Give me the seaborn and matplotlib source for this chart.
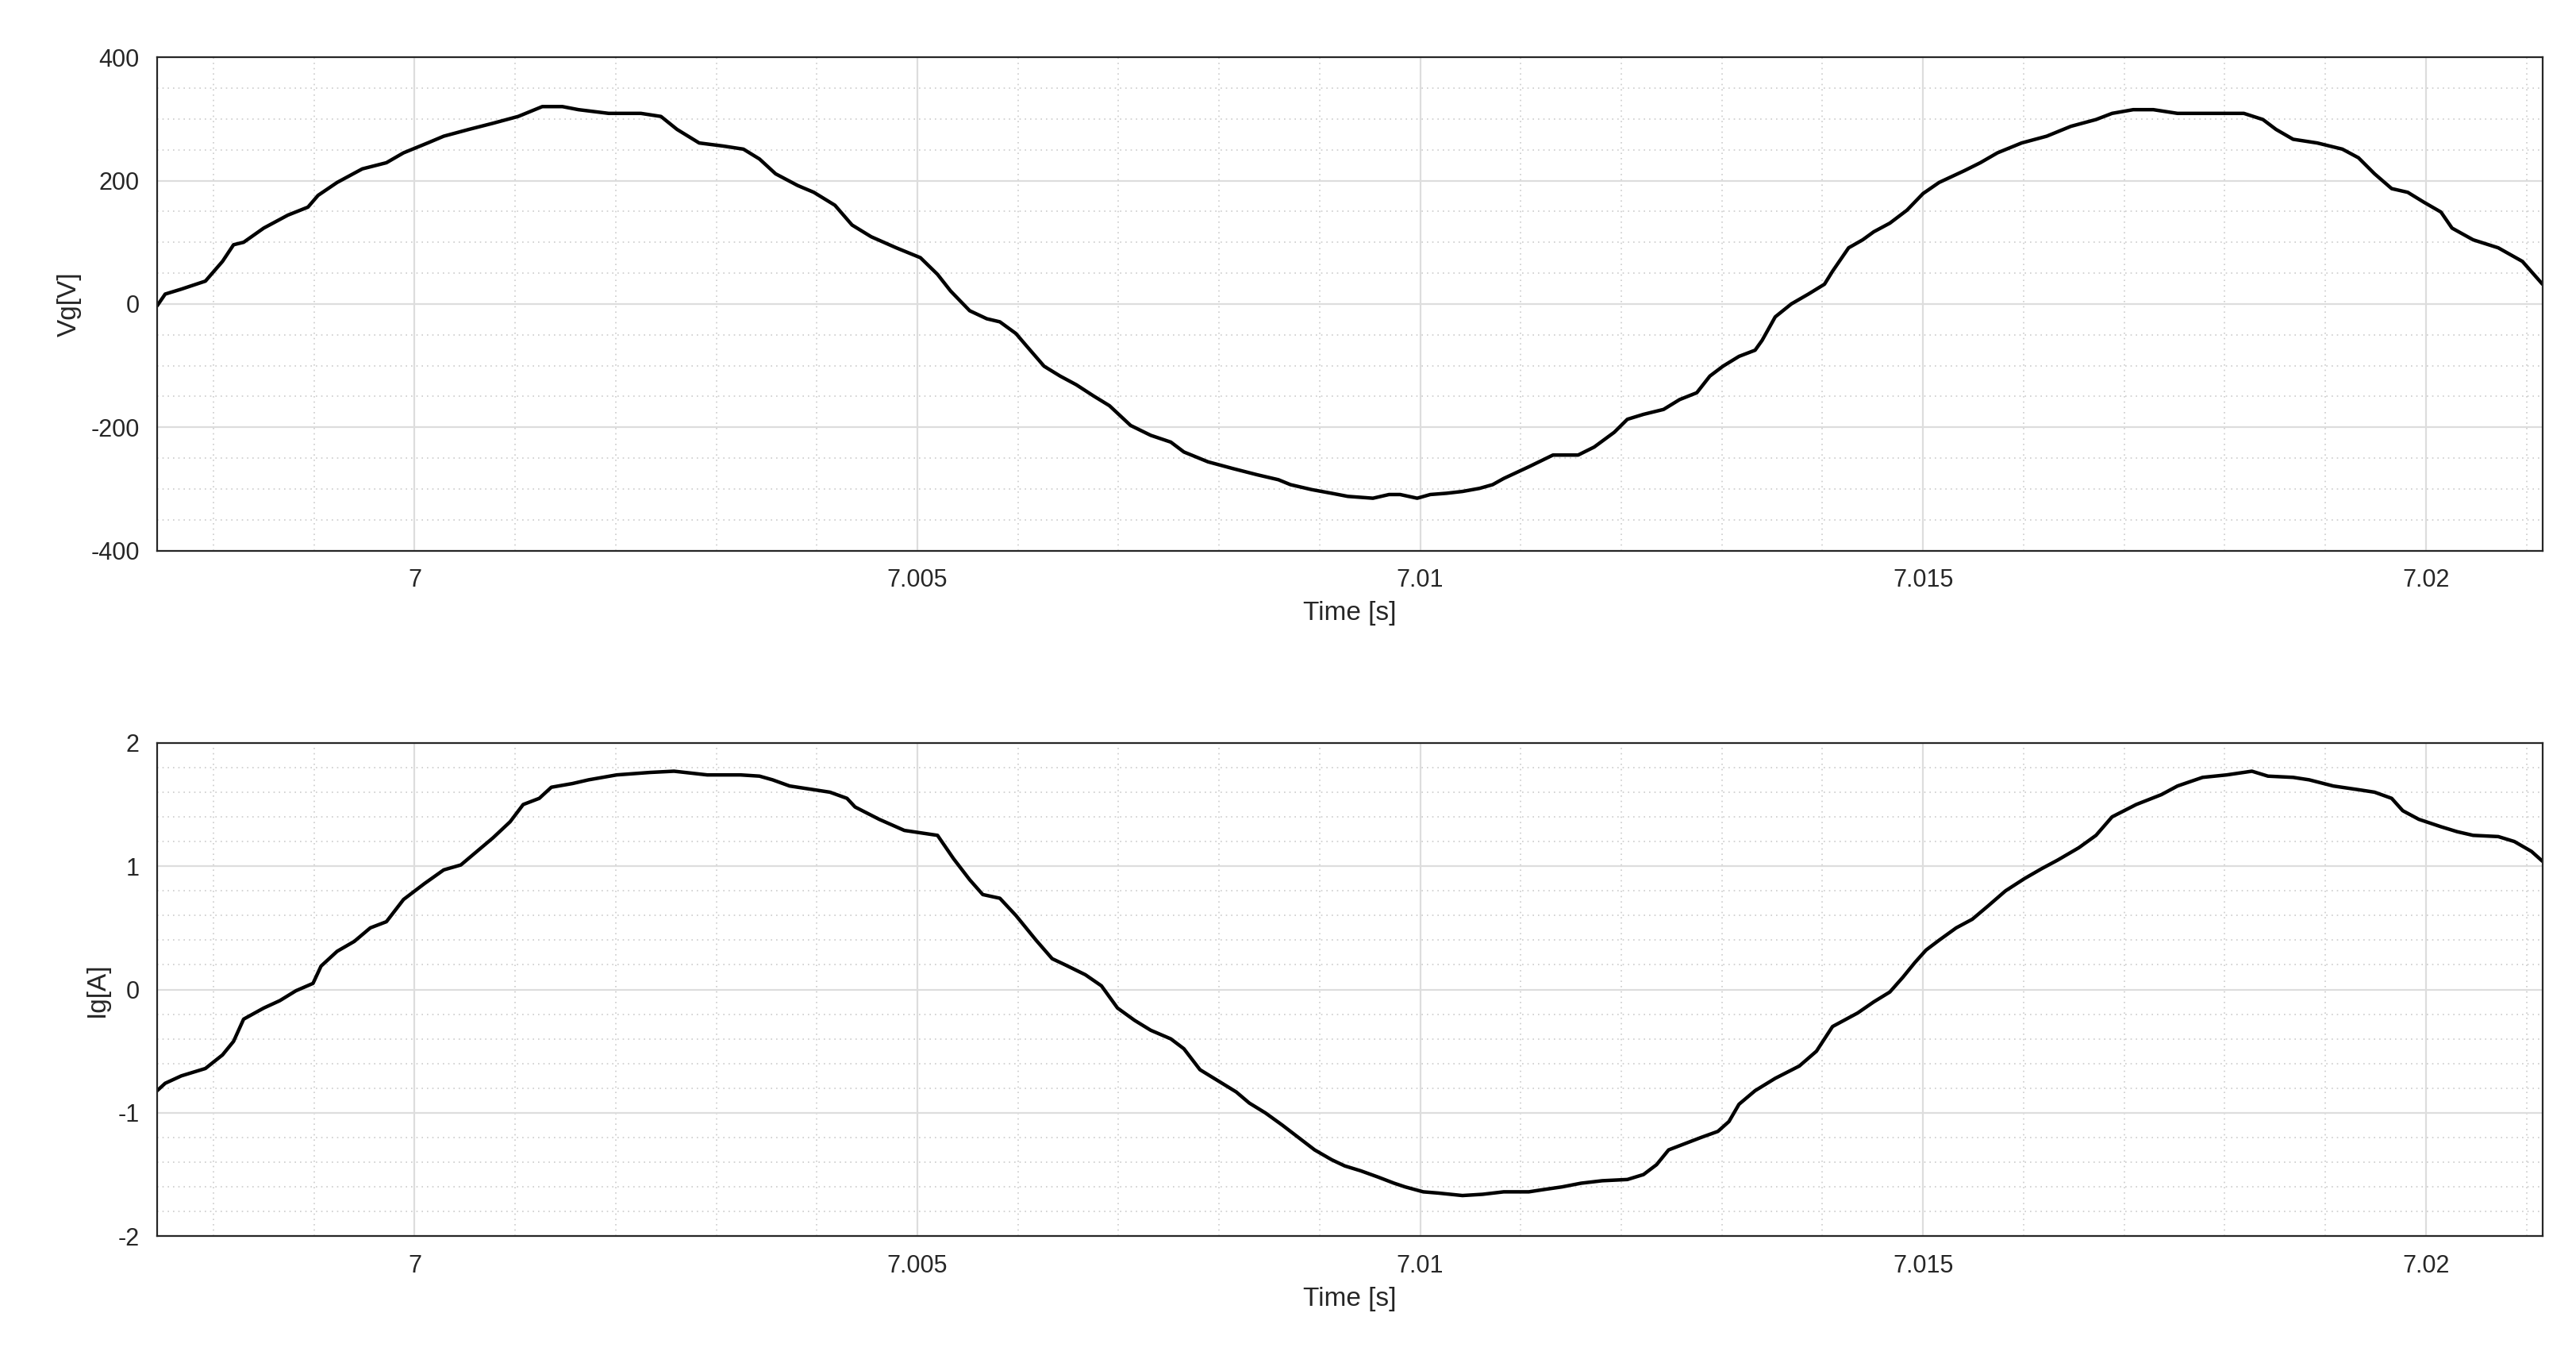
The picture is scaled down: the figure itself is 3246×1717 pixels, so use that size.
import numpy as np
import matplotlib
matplotlib.use("Agg")
import matplotlib.pyplot as plt
import seaborn as sns
from matplotlib.ticker import MultipleLocator

# grid voltage
t_v = [6.99744, 6.99752, 6.99768, 6.99792, 6.99809, 6.99820, 6.99830, 6.99850, 6.99874, 6.99894,
       6.99904, 6.99923, 6.99948, 6.99972, 6.99989, 7.00013, 7.00029, 7.00054, 7.00078, 7.00103,
       7.00127, 7.00147, 7.00163, 7.00193, 7.00225, 7.00245, 7.00261, 7.00283, 7.00307, 7.00327,
       7.00343, 7.00359, 7.00381, 7.00397, 7.00418, 7.00435, 7.00454, 7.00479, 7.00503, 7.00520,
       7.00533, 7.00552, 7.00569, 7.00582, 7.00598, 7.00609, 7.00626, 7.00642, 7.00658, 7.00675,
       7.00691, 7.00712, 7.00732, 7.00752, 7.00765, 7.00789, 7.00814, 7.00838, 7.00859, 7.00871,
       7.00892, 7.00912, 7.00928, 7.00953, 7.00969, 7.00980, 7.00997, 7.01010, 7.01026, 7.01042,
       7.01059, 7.01072, 7.01083, 7.01108, 7.01132, 7.01157, 7.01173, 7.01193, 7.01206, 7.01222,
       7.01242, 7.01258, 7.01275, 7.01288, 7.01301, 7.01317, 7.01333, 7.01340, 7.01353, 7.01369,
       7.01386, 7.01402, 7.01410, 7.01426, 7.01440, 7.01451, 7.01467, 7.01484, 7.01500, 7.01516,
       7.01541, 7.01557, 7.01574, 7.01598, 7.01623, 7.01647, 7.01672, 7.01688, 7.01709, 7.01729,
       7.01753, 7.01778, 7.01819, 7.01838, 7.01851, 7.01868, 7.01892, 7.01917, 7.01933, 7.01949,
       7.01966, 7.01982, 7.01998, 7.02015, 7.02026, 7.02047, 7.02072, 7.02096, 7.02116]
vg = [-3, 16, 24, 37, 69, 96, 100, 123, 144, 157,
      176, 197, 219, 229, 245, 261, 272, 283, 293, 304,
      320, 320, 315, 309, 309, 304, 283, 261, 256, 251,
      235, 211, 192, 181, 160, 128, 109, 91, 75, 48,
      21, -11, -24, -29, -48, -69, -101, -117, -131, -149,
      -165, -197, -213, -224, -240, -256, -267, -277, -285, -293,
      -301, -307, -312, -315, -309, -309, -315, -309, -307, -304,
      -299, -293, -283, -264, -245, -245, -232, -208, -187, -179,
      -171, -155, -144, -117, -101, -85, -75, -59, -21, 0,
      16, 32, 53, 91, 104, 117, 131, 152, 179, 197,
      216, 229, 245, 261, 272, 288, 299, 309, 315, 315,
      309, 309, 309, 299, 283, 267, 261, 251, 237, 211,
      187, 181, 165, 149, 123, 104, 91, 69, 32]

# grid current
t_i = [6.99744, 6.99752, 6.99768, 6.99792, 6.99809, 6.99820, 6.99830, 6.99850, 6.99866, 6.99882,
       6.99899, 6.99907, 6.99923, 6.99940, 6.99956, 6.99972, 6.99989, 7.00010, 7.00029, 7.00046,
       7.00062, 7.00078, 7.00095, 7.00108, 7.00124, 7.00136, 7.00157, 7.00173, 7.00201, 7.00234,
       7.00258, 7.00291, 7.00324, 7.00343, 7.00356, 7.00373, 7.00397, 7.00413, 7.00430, 7.00438,
       7.00462, 7.00487, 7.00520, 7.00536, 7.00552, 7.00565, 7.00582, 7.00598, 7.00618, 7.00634,
       7.00647, 7.00667, 7.00683, 7.00699, 7.00716, 7.00732, 7.00752, 7.00765, 7.00781, 7.00801,
       7.00817, 7.00830, 7.00846, 7.00863, 7.00879, 7.00895, 7.00912, 7.00925, 7.00941, 7.00958,
       7.00974, 7.00985, 7.01003, 7.01018, 7.01042, 7.01062, 7.01083, 7.01108, 7.01124, 7.01141,
       7.01160, 7.01181, 7.01206, 7.01222, 7.01235, 7.01247, 7.01263, 7.01279, 7.01296, 7.01307,
       7.01317, 7.01333, 7.01353, 7.01377, 7.01394, 7.01410, 7.01435, 7.01451, 7.01467, 7.01480,
       7.01492, 7.01503, 7.01516, 7.01533, 7.01549, 7.01565, 7.01582, 7.01601, 7.01618, 7.01634,
       7.01655, 7.01672, 7.01688, 7.01712, 7.01737, 7.01753, 7.01778, 7.01802, 7.01827, 7.01843,
       7.01868, 7.01884, 7.01908, 7.01933, 7.01949, 7.01966, 7.01977, 7.01993, 7.02015, 7.02031,
       7.02047, 7.02072, 7.02088, 7.02105, 7.02116]
ig = [-0.82, -0.76, -0.70, -0.64, -0.53, -0.42, -0.24, -0.15, -0.09, -0.01,
      0.05, 0.19, 0.31, 0.39, 0.50, 0.55, 0.73, 0.86, 0.97, 1.01,
      1.12, 1.23, 1.36, 1.50, 1.55, 1.64, 1.67, 1.70, 1.74, 1.76,
      1.77, 1.74, 1.74, 1.73, 1.70, 1.65, 1.62, 1.60, 1.55, 1.48,
      1.38, 1.29, 1.25, 1.06, 0.89, 0.77, 0.74, 0.60, 0.40, 0.25,
      0.20, 0.12, 0.03, -0.15, -0.25, -0.33, -0.40, -0.48, -0.65, -0.75,
      -0.83, -0.92, -1.00, -1.10, -1.20, -1.30, -1.38, -1.43, -1.47, -1.52,
      -1.57, -1.60, -1.64, -1.65, -1.67, -1.66, -1.64, -1.64, -1.62, -1.60,
      -1.57, -1.55, -1.54, -1.50, -1.42, -1.30, -1.25, -1.20, -1.15, -1.07,
      -0.93, -0.82, -0.72, -0.62, -0.50, -0.30, -0.19, -0.10, -0.02, 0.10,
      0.22, 0.32, 0.40, 0.50, 0.57, 0.68, 0.80, 0.90, 0.98, 1.05,
      1.15, 1.25, 1.40, 1.50, 1.58, 1.65, 1.72, 1.74, 1.77, 1.73,
      1.72, 1.70, 1.65, 1.62, 1.60, 1.55, 1.45, 1.38, 1.32, 1.28,
      1.25, 1.24, 1.20, 1.12, 1.04]

sns.set_style("white")
plt.rcParams['font.family'] = ['Liberation Sans', 'DejaVu Sans']
plt.rcParams['axes.unicode_minus'] = False

fig = plt.figure(figsize=(16.23, 8.585), dpi=200)
ax1 = fig.add_axes([0.061, 0.596, 0.926, 0.362])
ax2 = fig.add_axes([0.061, 0.093, 0.926, 0.362])

panels = [
    (ax1, t_v, vg, "Vg[V]", (-400, 400), 200, 50),
    (ax2, t_i, ig, "Ig[A]", (-2, 2), 1, 0.2),
]
for ax, t, y, lab, ylim, ymaj, ymin in panels:
    sns.lineplot(x=t, y=y, ax=ax, color="black", linewidth=1.6, sort=False)
    ax.set_xlim(6.99744, 7.02116)
    ax.set_ylim(*ylim)
    ax.xaxis.set_minor_locator(MultipleLocator(0.001))
    ax.yaxis.set_major_locator(MultipleLocator(ymaj))
    ax.yaxis.set_minor_locator(MultipleLocator(ymin))
    ax.set_xticks([7.0, 7.005, 7.01, 7.015, 7.02])
    ax.set_xticklabels(["7", "7.005", "7.01", "7.015", "7.02"])
    ax.grid(True, which="major", color="#dddddd", linewidth=0.8)
    ax.grid(True, which="minor", color="#cccccc", linestyle=(0, (1, 3)), linewidth=0.6)
    ax.tick_params(which="major", direction="in", length=6, width=0.8, color="#262626",
                   labelsize=11, labelcolor="#262626", pad=8)
    ax.tick_params(which="minor", length=0)
    for s in ax.spines.values():
        s.set_color("#262626")
        s.set_linewidth(0.8)
    ax.set_xlabel("Time [s]", fontsize=12, color="#262626")
    ax.set_ylabel(lab, fontsize=12, color="#262626")

fig.savefig("out.png", dpi=200, facecolor="white")
